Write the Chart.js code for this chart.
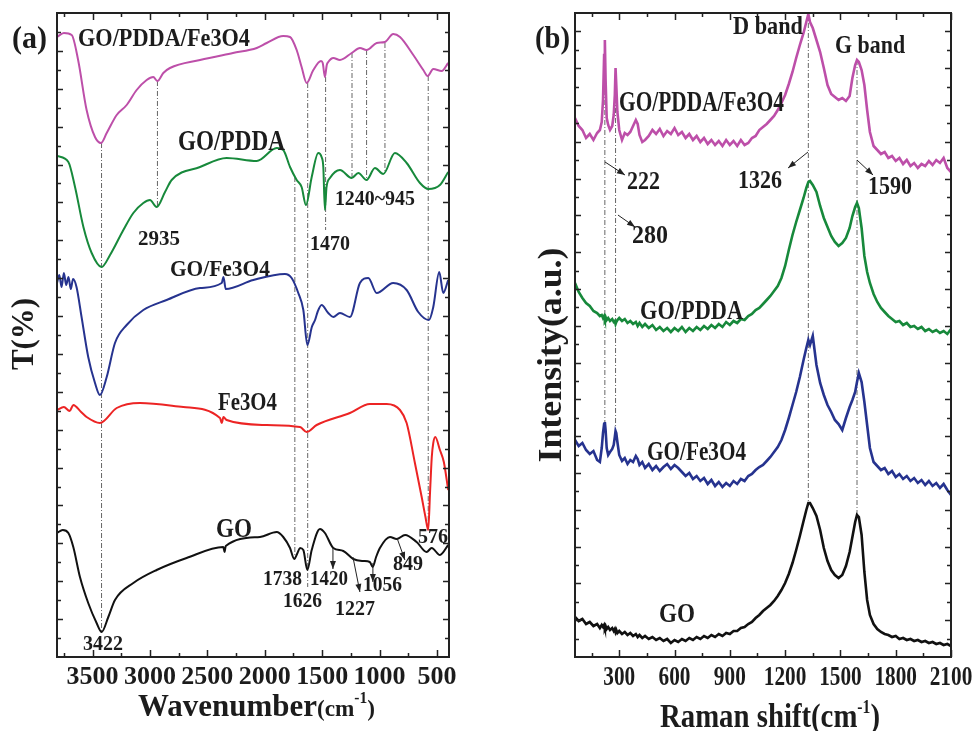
<!DOCTYPE html>
<html><head><meta charset="utf-8">
<script src="https://cdn.jsdelivr.net/npm/chart.js@4.4.1/dist/chart.umd.min.js"></script>
<style>
html,body{margin:0;padding:0;background:#fff;}
#wrap{position:relative;width:973px;height:731px;overflow:hidden;}
#ca{position:absolute;left:0;top:0;}
#cb{position:absolute;left:490px;top:0;}
</style></head><body>
<div id="wrap"><canvas id="ca" width="490" height="731"></canvas><canvas id="cb" width="483" height="731"></canvas></div>
<script>
// ---------------- FTIR data (panel a), T(%) in arbitrary stacked units ----------------
const ftirMajorTicks = [3500,3000,2500,2000,1500,1000,500];
const ftirMajorLabels = ['3500','3000','2500','2000','1500','1000','500'];
const ftirMinorTicks = [3750,3250,2750,2250,1750,1250,750];

const ftirGOPDDAFe_wn = [3810,3750,3682,3626,3552,3479,3427,3377,3290,3203,3116,3029,2971,2936,2884,2826,2564,2277,2070,1983,1839,1780,1722,1679,1635,1577,1510,1495,1476,1460,1447,1403,1345,1243,1171,1113,1025,953,881,822,706,619,581,532,459,402];
const ftirGOPDDAFe_T  = [620,624,622,597,547,520,514,524,542,552,567,577,580,576,584,589,597,604,609,614,621,620,607,590,574,587,596,594,580,592,595,599,597,604,609,607,614,615,623,620,602,587,581,588,586,594];

const ftirGOPDDA_wn = [3810,3711,3653,3580,3508,3422,3348,3232,3145,3058,3000,2942,2869,2811,2564,2332,2070,1896,1839,1780,1722,1679,1641,1591,1534,1505,1490,1476,1462,1432,1345,1243,1185,1113,1040,968,866,764,648,575,474,402];
const ftirGOPDDA_T  = [501,495,470,430,404,390,402,427,444,454,457,450,465,477,490,499,496,509,507,490,477,470,452,480,504,500,490,447,470,479,487,479,484,477,489,483,504,494,474,468,472,485];

const ftirGOFe_wn = [3810,3790,3770,3750,3730,3710,3690,3670,3640,3596,3538,3479,3436,3377,3305,3203,3058,2855,2564,2375,2360,2340,2100,1824,1766,1708,1664,1629,1590,1562,1540,1505,1447,1403,1345,1258,1171,1098,1025,881,764,663,570,532,480,445,402];
const ftirGOFe_T  = [374,382,370,384,372,380,368,378,370,340,300,274,262,280,314,332,347,357,369,374,380,368,377,383,379,364,347,312,330,337,345,352,344,340,344,340,374,379,364,374,367,345,337,350,385,364,377];

const ftirFe_wn = [3810,3750,3700,3668,3600,3552,3436,3290,3087,2710,2390,2375,2360,2332,1983,1693,1635,1548,1258,1084,938,822,764,692,633,600,576,560,545,532,515,474,440,402];
const ftirFe_T  = [247,250,246,252,245,240,234,249,254,250,239,234,240,237,232,230,225,232,244,253,253,247,234,194,160,140,127,165,200,214,220,207,195,167];

const ftirGO_wn = [3810,3760,3711,3668,3610,3538,3465,3421,3363,3305,3145,2942,2681,2361,2350,2340,2042,1896,1839,1780,1743,1715,1693,1664,1629,1591,1519,1476,1403,1316,1229,1142,1085,1060,1030,997,909,851,778,677,590,546,474,402];
const ftirGO_T  = [124,127,124,110,80,54,34,25,40,57,74,87,99,110,105,111,120,125,120,109,98,104,109,107,87,107,128,124,109,106,98,96,95,90,100,109,120,118,122,115,105,109,102,112];

// guide lines: [wavenumber, upper value, lower value]
const ftirGuides = [[3422,514,25],[2935,576,450],[1738,480,98],[1626,574,70],[1470,580,427],[1240,604,480],[1113,607,479],[953,614,484],[576,581,127]];

// ---------------- Raman data (panel b) ----------------
const ramanMajorTicks = [300,600,900,1200,1500,1800,2100];
const ramanMajorLabels = ['300','600','900','1200','1500','1800','2100'];
const ramanMinorTicks = [150,450,750,1050,1350,1650,1950];

const ramanShift = [
60,80,100,120,140,160,180,195,205,212,
218,222,226,232,240,250,262,270,276,280,
284,290,300,315,330,345,360,375,390,400,
410,425,440,460,480,500,520,540,560,580,
600,620,640,660,680,700,720,740,760,780,
800,820,840,860,880,900,920,940,960,980,
1000,1020,1040,1060,1080,1100,1120,1140,1160,1180,
1200,1220,1240,1260,1280,1300,1315,1326,1335,1350,
1370,1390,1410,1430,1450,1470,1490,1510,1530,1550,
1565,1580,1590,1600,1615,1630,1645,1660,1680,1700,
1720,1740,1760,1780,1800,1820,1840,1860,1880,1900,
1920,1940,1960,1980,2000,2020,2040,2060,2080,2100];

const ramanGOPDDAFe = [
539,531,527,519,523,517,524,527,535,557,
602,617,577,539,532,527,531,542,562,589,
572,545,527,517,524,522,525,531,537,533,
522,515,517,521,527,523,528,521,526,523,
529,522,525,519,523,517,521,515,519,513,
517,512,516,511,517,512,516,511,517,512,
514,519,521,527,530,533,537,541,547,554,
562,573,585,599,612,624,635,643,635,629,
617,605,589,572,563,560,557,559,556,561,
579,592,597,595,587,572,547,525,511,507,
503,505,499,501,496,499,493,497,491,494,
489,493,491,496,492,497,494,499,489,485];

const ramanGOPDDA = [
374,365,359,354,351,346,344,341,342,339,
341,338,340,337,339,336,338,335,336,333,
335,337,339,336,338,334,336,333,335,331,
334,330,333,329,332,327,330,326,329,325,
329,326,330,325,329,326,330,327,331,328,
332,329,333,330,335,332,336,334,338,337,
341,343,347,349,353,357,361,366,371,379,
391,407,422,435,447,459,469,475,476,472,
465,451,439,430,421,415,411,414,419,429,
441,450,454,449,429,401,385,374,363,355,
349,345,341,338,335,336,332,334,330,331,
328,330,326,328,325,327,324,326,323,328];

const ramanGOFe = [
217,211,214,207,203,206,197,195,209,224,
233,235,227,209,202,205,208,212,220,226,
224,215,202,196,199,193,197,195,201,198,
192,195,189,193,187,191,186,190,193,188,
192,189,185,181,184,178,181,176,179,173,
177,171,175,170,174,171,176,173,178,176,
181,183,187,190,192,196,200,205,210,217,
227,239,252,265,280,297,309,317,312,321,
292,274,262,252,245,237,233,227,239,250,
257,265,275,284,275,255,232,209,195,191,
187,189,183,186,180,183,178,181,176,179,
174,177,172,176,171,174,169,173,167,162];

const ramanGO = [
40,36,38,33,35,31,33,29,32,30,
32,29,31,28,30,27,29,26,28,25,
27,24,26,23,25,22,24,21,23,20,
22,19,21,18,20,17,19,16,18,14,
17,15,18,16,19,17,20,18,21,19,
22,20,23,21,24,23,26,26,29,30,
33,35,39,42,46,49,52,56,61,67,
74,83,94,107,121,136,147,154,154,149,
141,127,109,96,87,82,79,82,91,105,
120,135,142,140,122,85,57,42,33,28,
25,23,22,20,21,18,19,17,18,16,
17,15,16,14,15,13,14,12,13,11];

const ramanGuides = [[222,617,235],[280,589,227],[1326,644,155],[1590,597,142]];

// ---------------- annotations ----------------
const ftirNotes = [
 {t:'GO/PDDA/Fe3O4', x:3627, v:617, s:25, w:172},
 {t:'GO/PDDA', x:2756, v:514, s:29, w:107},
 {t:'2935', x:3105, v:417, s:20, w:42},
 {t:'1470', x:1606, v:412, s:20, w:40},
 {t:'1240~945', x:1389, v:457, s:20, w:80},
 {t:'GO/Fe3O4', x:2826, v:387, s:23, w:100},
 {t:'Fe3O4', x:2408, v:254, s:26, w:59},
 {t:'GO', x:2425, v:127, s:27, w:36},
 {t:'1738', x:2016, v:77, s:20, w:39},
 {t:'1626', x:1842, v:55, s:20, w:39},
 {t:'1420', x:1606, v:77, s:20, w:38},
 {t:'1227', x:1389, v:47, s:20, w:40},
 {t:'1056', x:1145, v:71, s:20, w:39},
 {t:'849', x:883, v:92, s:20, w:30},
 {t:'576', x:666, v:119, s:20, w:30},
 {t:'3422', x:3584, v:12, s:20, w:40}
];
const ftirArrows = [[1406,109,1406,88],[1232,100,1171,65],[1058,94,1058,75],[848,119,779,97]];

const ramanNotes = [
 {t:'D band', x:917, v:629, s:25, w:70},
 {t:'G band', x:1471, v:610, s:25, w:70},
 {t:'GO/PDDA/Fe3O4', x:299, v:554, s:30, w:165},
 {t:'222', x:342, v:474, s:25, w:33},
 {t:'280', x:369, v:420, s:25, w:36},
 {t:'1326', x:944, v:475, s:25, w:44},
 {t:'1590', x:1650, v:469, s:25, w:44},
 {t:'GO/PDDA', x:413, v:345, s:27, w:103},
 {t:'GO/Fe3O4', x:451, v:204, s:27, w:99},
 {t:'GO', x:516, v:42, s:27, w:36}
];
const ramanArrows = [[223,495,331,482],[293,442,386,430],[1324,505,1216,489],[1590,497,1677,482]];

// ---------------- drawing helpers ----------------
const FONT = '"Liberation Serif","Times New Roman",Times,serif';
const INK = '#1c1c1c';
function txt(ctx, s, x, y, size, opt) {
  opt = opt || {};
  ctx.save();
  ctx.font = 'bold ' + size + 'px ' + FONT;
  const w = ctx.measureText(s).width;
  const sx = opt.w ? opt.w / w : (opt.sx || 1);
  ctx.translate(x, y);
  if (opt.rot) ctx.rotate(opt.rot);
  ctx.scale(sx, 1);
  ctx.textAlign = opt.align || 'left';
  ctx.textBaseline = opt.base || 'middle';
  ctx.fillStyle = INK;
  ctx.fillText(s, 0, 0);
  ctx.restore();
}
function compositeTitle(ctx, parts, x, baseline, targetW) {
  ctx.save();
  let total = 0;
  parts.forEach(p => { ctx.font = 'bold ' + p.s + 'px ' + FONT; p.w = ctx.measureText(p.t).width; total += p.w; });
  ctx.translate(x, baseline);
  ctx.scale(targetW / total, 1);
  ctx.textBaseline = 'alphabetic';
  ctx.textAlign = 'left';
  ctx.fillStyle = INK;
  let cx = 0;
  parts.forEach(p => { ctx.font = 'bold ' + p.s + 'px ' + FONT; ctx.fillText(p.t, cx, p.dy || 0); cx += p.w; });
  ctx.restore();
}
function arrow(ctx, x1, y1, x2, y2) {
  ctx.save();
  ctx.strokeStyle = '#222'; ctx.fillStyle = '#222'; ctx.lineWidth = 1;
  ctx.beginPath(); ctx.moveTo(x1, y1); ctx.lineTo(x2, y2); ctx.stroke();
  const a = Math.atan2(y2 - y1, x2 - x1), L = 8, W = 3;
  ctx.beginPath(); ctx.moveTo(x2, y2);
  ctx.lineTo(x2 - L * Math.cos(a) + W * Math.sin(a), y2 - L * Math.sin(a) - W * Math.cos(a));
  ctx.lineTo(x2 - L * Math.cos(a) - W * Math.sin(a), y2 - L * Math.sin(a) + W * Math.cos(a));
  ctx.closePath(); ctx.fill();
  ctx.restore();
}

function panelPlugin(cfg) {
  return {
    id: 'panel_' + cfg.id,
    afterDraw(chart) {
      const ctx = chart.ctx, a = chart.chartArea;
      const xs = chart.scales.x, ys = chart.scales.y;
      ctx.save();
      ctx.strokeStyle = '#222'; ctx.lineWidth = 2;
      ctx.strokeRect(a.left, a.top, a.right - a.left, a.bottom - a.top);
      ctx.lineWidth = 1.5;
      ctx.beginPath();
      cfg.major.forEach(v => { const x = Math.round(xs.getPixelForValue(v)) + 0.5;
        ctx.moveTo(x, a.bottom); ctx.lineTo(x, a.bottom - 7);
        ctx.moveTo(x, a.top); ctx.lineTo(x, a.top + 7); });
      cfg.minor.forEach(v => { const x = Math.round(xs.getPixelForValue(v)) + 0.5;
        ctx.moveTo(x, a.bottom); ctx.lineTo(x, a.bottom - 4);
        ctx.moveTo(x, a.top); ctx.lineTo(x, a.top + 4); });
      for (let k = 1; k * cfg.yStep < ys.max - 2; k++) {
        const y = Math.round(ys.getPixelForValue(k * cfg.yStep)) + 0.5;
        const L = (k % 2 === 0) ? 6 : 4;
        ctx.moveTo(a.left, y); ctx.lineTo(a.left + L, y);
        ctx.moveTo(a.right, y); ctx.lineTo(a.right - L, y);
      }
      ctx.stroke();
      cfg.major.forEach((v, i) => {
        txt(ctx, cfg.labels[i], xs.getPixelForValue(v), cfg.tickY, cfg.tickSize, {align: 'center', sx: cfg.tickSx});
      });
      cfg.notes.forEach(n => txt(ctx, n.t, xs.getPixelForValue(n.x), ys.getPixelForValue(n.v), n.s, {w: n.w}));
      cfg.arrows.forEach(r => arrow(ctx, xs.getPixelForValue(r[0]), ys.getPixelForValue(r[1]), xs.getPixelForValue(r[2]), ys.getPixelForValue(r[3])));
      txt(ctx, cfg.letter, cfg.letterX, 40, 32, {w: 35});
      compositeTitle(ctx, cfg.xTitle, cfg.xTitleX, cfg.xTitleBase, cfg.xTitleW);
      txt(ctx, cfg.yTitle, cfg.yTitleX, cfg.yTitleY, cfg.yTitleSize, {rot: -Math.PI / 2, align: 'center', w: cfg.yTitleW});
      ctx.restore();
    }
  };
}

function series(xs, ys, color, width) {
  return { data: xs.map((x, i) => ({x: x, y: ys[i]})), borderColor: color, borderWidth: width, pointRadius: 0, fill: false, order: 1 };
}
function guides(list) {
  return list.map(g => ({ data: [{x: g[0], y: g[1]}, {x: g[0], y: g[2]}], borderColor: '#555', borderWidth: 0.9,
    borderDash: [5, 2, 1, 2], pointRadius: 0, fill: false, order: 5 }));
}

const COL = {mag: '#bd4fa9', green: '#17893b', blue: '#26338f', red: '#ec2424', black: '#111111'};

const baseOpts = (pad, xmin, xmax, rev) => ({
  responsive: false, animation: false, devicePixelRatio: 1,
  layout: {padding: pad},
  plugins: {legend: {display: false}, tooltip: {enabled: false}},
  scales: {
    x: {type: 'linear', min: xmin, max: xmax, reverse: rev, display: false},
    y: {type: 'linear', min: 0, max: 644, display: false}
  }
});

const ftirSets = [
  series(ftirGOPDDAFe_wn, ftirGOPDDAFe_T, COL.mag, 2),
  series(ftirGOPDDA_wn, ftirGOPDDA_T, COL.green, 2),
  series(ftirGOFe_wn, ftirGOFe_T, COL.blue, 2),
  series(ftirFe_wn, ftirFe_T, COL.red, 2),
  series(ftirGO_wn, ftirGO_T, COL.black, 2)
].map(d => Object.assign(d, {cubicInterpolationMode: 'monotone'})).concat(guides(ftirGuides));

new Chart(document.getElementById('ca'), {
  type: 'line',
  data: {datasets: ftirSets},
  options: baseOpts({left: 57, right: 41, top: 13, bottom: 74}, 395, 3810, true),
  plugins: [panelPlugin({
    id: 'a', major: ftirMajorTicks, minor: ftirMinorTicks, labels: ftirMajorLabels,
    tickY: 677, tickSize: 26, tickSx: 1.0, yStep: 644 / 34,
    notes: ftirNotes, arrows: ftirArrows, letter: '(a)', letterX: 12,
    xTitle: [{t: 'Wavenumber', s: 32}, {t: '(cm', s: 24}, {t: '-1', s: 16, dy: -13}, {t: ')', s: 24}],
    xTitleX: 138, xTitleBase: 716, xTitleW: 237,
    yTitle: 'T(%)', yTitleX: 25, yTitleY: 334, yTitleSize: 32, yTitleW: 72
  })]
});

const ramanSets = [
  series(ramanShift, ramanGOPDDAFe, COL.mag, 2.6),
  series(ramanShift, ramanGOPDDA, COL.green, 2.6),
  series(ramanShift, ramanGOFe, COL.blue, 2.6),
  series(ramanShift, ramanGO, COL.black, 2.6)
].concat(guides(ramanGuides));

new Chart(document.getElementById('cb'), {
  type: 'line',
  data: {datasets: ramanSets},
  options: baseOpts({left: 85, right: 22, top: 13, bottom: 74}, 60, 2100, false),
  plugins: [panelPlugin({
    id: 'b', major: ramanMajorTicks, minor: ramanMinorTicks, labels: ramanMajorLabels,
    tickY: 678, tickSize: 28, tickSx: 0.76, yStep: 644 / 35,
    notes: ramanNotes, arrows: ramanArrows, letter: '(b)', letterX: 45,
    xTitle: [{t: 'Raman shift(cm', s: 33}, {t: '-1', s: 18, dy: -14}, {t: ')', s: 33}],
    xTitleX: 170, xTitleBase: 727, xTitleW: 220,
    yTitle: 'Intensity(a.u.)', yTitleX: 62, yTitleY: 355, yTitleSize: 34, yTitleW: 215
  })]
});
</script>
</body></html>
